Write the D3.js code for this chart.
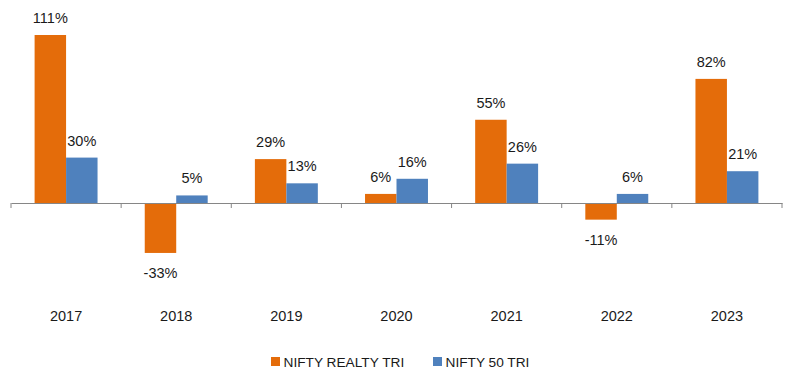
<!DOCTYPE html>
<html>
<head>
<meta charset="utf-8">
<script src="https://cdn.jsdelivr.net/npm/d3@7"></script>
<style>
  html, body { margin: 0; padding: 0; background: #fff; }
  svg { display: block; }
  text { font-family: "Liberation Sans", Arial, sans-serif; fill: #1a1a1a; }
</style>
</head>
<body>
<svg id="chart" width="790" height="373"></svg>
<script>
const categories = ["2017", "2018", "2019", "2020", "2021", "2022", "2023"];
const seriesNames = ["NIFTY REALTY TRI", "NIFTY 50 TRI"];
const realty = [111, -33, 29, 6, 55, -11, 82];
const nifty50 = [30, 5, 13, 16, 26, 6, 21];
const colors = ["#E46C0A", "#4F81BD"];

const seriesValues = [realty, nifty50];
const svg = d3.select("#chart");

const x = d3.scaleBand().domain(categories).range([11, 782]).paddingInner(0).paddingOuter(0);
const xSub = d3.scaleBand().domain(seriesNames).range([0, x.bandwidth()]).paddingInner(0).paddingOuter(0.75);
const y = d3.scaleLinear().domain([-60, 120]).range([203 + 60 * 1.5135, 203 - 120 * 1.5135]);

// bars
seriesNames.forEach((s, si) => {
  const vals = seriesValues[si];
  const g = svg.append("g");
  g.selectAll("rect").data(categories).enter().append("rect")
    .attr("x", (c) => x(c) + xSub(s))
    .attr("width", xSub.bandwidth())
    .attr("y", (c, i) => Math.min(y(vals[i]), y(0)))
    .attr("height", (c, i) => Math.abs(y(vals[i]) - y(0)))
    .attr("fill", colors[si]);
  g.selectAll("text").data(categories).enter().append("text")
    .attr("x", (c) => x(c) + xSub(s) + xSub.bandwidth() / 2)
    .attr("y", (c, i) => vals[i] >= 0 ? y(vals[i]) - 12 : y(vals[i]) + 25)
    .attr("text-anchor", "middle")
    .attr("font-size", "14.5px")
    .text((c, i) => vals[i] + "%");
});

// axis
const axis = d3.axisBottom(x).tickSize(0).tickFormat("");
const ag = svg.append("g").attr("transform", `translate(0,${y(0)})`).call(axis);
ag.select(".domain").attr("stroke", "#868686").attr("stroke-width", 1);
const edges = categories.map((c) => x(c)).concat([x.range()[1]]);
ag.selectAll(".edge").data(edges).enter().append("line")
  .attr("x1", (d) => d).attr("x2", (d) => d)
  .attr("y1", 0).attr("y2", 5)
  .attr("stroke", "#868686");

svg.append("g").selectAll("text").data(categories).enter().append("text")
  .attr("x", (c) => x(c) + x.bandwidth() / 2)
  .attr("y", 321)
  .attr("text-anchor", "middle")
  .attr("font-size", "14.5px")
  .text((c) => c);

// legend
const legendX = [271, 433];
const lg = svg.append("g");
seriesNames.forEach((s, i) => {
  lg.append("rect").attr("x", legendX[i]).attr("y", 357).attr("width", 9).attr("height", 9).attr("fill", colors[i]);
  lg.append("text").attr("x", legendX[i] + 12.5).attr("y", 366.5).attr("font-size", "13.7px").text(s);
});
</script>
</body>
</html>
